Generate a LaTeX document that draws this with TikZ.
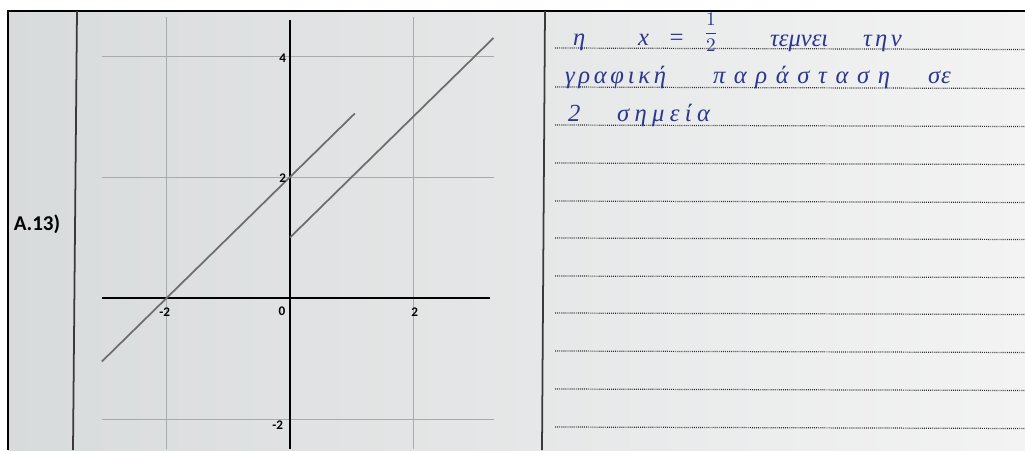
\documentclass[tikz,border=0pt]{standalone}
\usepackage{fontspec}
\setmainfont{Carlito}
\newfontfamily\handfont{Liberation Serif}
\usepackage{xcolor}
\definecolor{pagegrey}{HTML}{D8DBDC}
\definecolor{pagewhite}{HTML}{F3F3F3}
\definecolor{gridgrey}{HTML}{A9ABAA}
\definecolor{plotgrey}{HTML}{6E6E6E}
\definecolor{inkblue}{HTML}{2B3790}
\definecolor{rulegrey}{HTML}{3A3A3A}

\begin{document}
\begin{tikzpicture}[
  x=0.02cm, y=-0.02cm,
  every node/.style={inner sep=0pt, outer sep=0pt},
  frameline/.style={line width=1.3pt, black},
  colline/.style={line width=1pt, rulegrey},
  dotline/.style={line width=0.7pt, black!80, dash pattern=on 0.5pt off 0.6pt},
  gridline/.style={line width=0.5pt, gridgrey},
  axisline/.style={line width=1.2pt, black},
  graphline/.style={line width=1pt, plotgrey},
  ticklabel/.style={font=\bfseries\fontsize{7.5}{9}\selectfont},
  hand/.style={font=\handfont\itshape\fontsize{14}{16}\selectfont\addfontfeature{LetterSpace=#1},
    text=inkblue, anchor=base west},
  hand/.default=0
]

%% Page background and frame
\useasboundingbox (0,0) rectangle (1025,450);
\fill[white] (0,0) rectangle (1025,450);
\fill[left color=pagegrey, right color=pagewhite] (8,11) rectangle (1025,450);
\draw[frameline] (1025,11) -- (8,11) -- (8,450);

%% Column rules
\draw[colline] (77,11) -- (73,450);
\draw[colline] (545,11) -- (542,450);

%% Question label
\node[font=\bfseries\large] (qlabel) at (37,224) {A.13)};

%% Plot (origin at the axes crossing)
\begin{scope}[shift={(290,298)}, x=1.234cm, y=1.21cm]
  %% grid
  \foreach \gx in {-2,2}
    \draw[gridline] (\gx,-2.5) -- (\gx,4.65);
  \foreach \gy in {-2,2,4}
    \draw[gridline] (-3.05,\gy) -- (3.3,\gy);
  %% axes
  \draw[axisline] (-3.05,0) -- (3.25,0);
  \draw[axisline] (0,-2.5) -- (0,4.6);
  %% the two lines
  \draw[graphline] (-3.05,-1.05) -- (1.05,3.05);
  \draw[graphline] (0,1) -- (3.3,4.3);
  %% tick labels
  \node[ticklabel] (xlm2) at (-2.03,-0.23) {-2};
  \node[ticklabel] (xl0) at (-0.13,-0.22) {0};
  \node[ticklabel] (xl2) at (2.02,-0.23) {2};
  \node[ticklabel] (yl4) at (-0.12,3.97) {4};
  \node[ticklabel] (yl2) at (-0.12,1.98) {2};
  \node[ticklabel] (ylm2) at (-0.2,-2.1) {-2};
\end{scope}

%% Dotted answer lines
\foreach \ly in {48,87,125,163,201,238,276,313,351,389,427}
  \draw[dotline] (555,\ly) -- (1025,\ly+1.5);

%% Handwritten answer (spread out like the hand)
\node[hand] (w1) at (573,45) {η};
\node[hand] (w2) at (638,45) {x};
\node[hand] (w3) at (668,45) {=};
\node[text=inkblue, font=\fontsize{11}{13}\selectfont] (w4) at (711,32) {$\displaystyle\frac{1}{2}$};
\node[hand=0] (w5) at (770,46) {τεμνει};
\node[hand=14] (w6) at (863,46) {την};
\node[hand=15] (w7) at (565,83) {γραφική};
\node[hand=35] (w8) at (713,83) {παράσταση};
\node[hand=4] (w9) at (928,83) {σε};
\node[hand] (w10) at (568,121) {2};
\node[hand=22] (w11) at (617,121) {σημεία};

\end{tikzpicture}
\end{document}
